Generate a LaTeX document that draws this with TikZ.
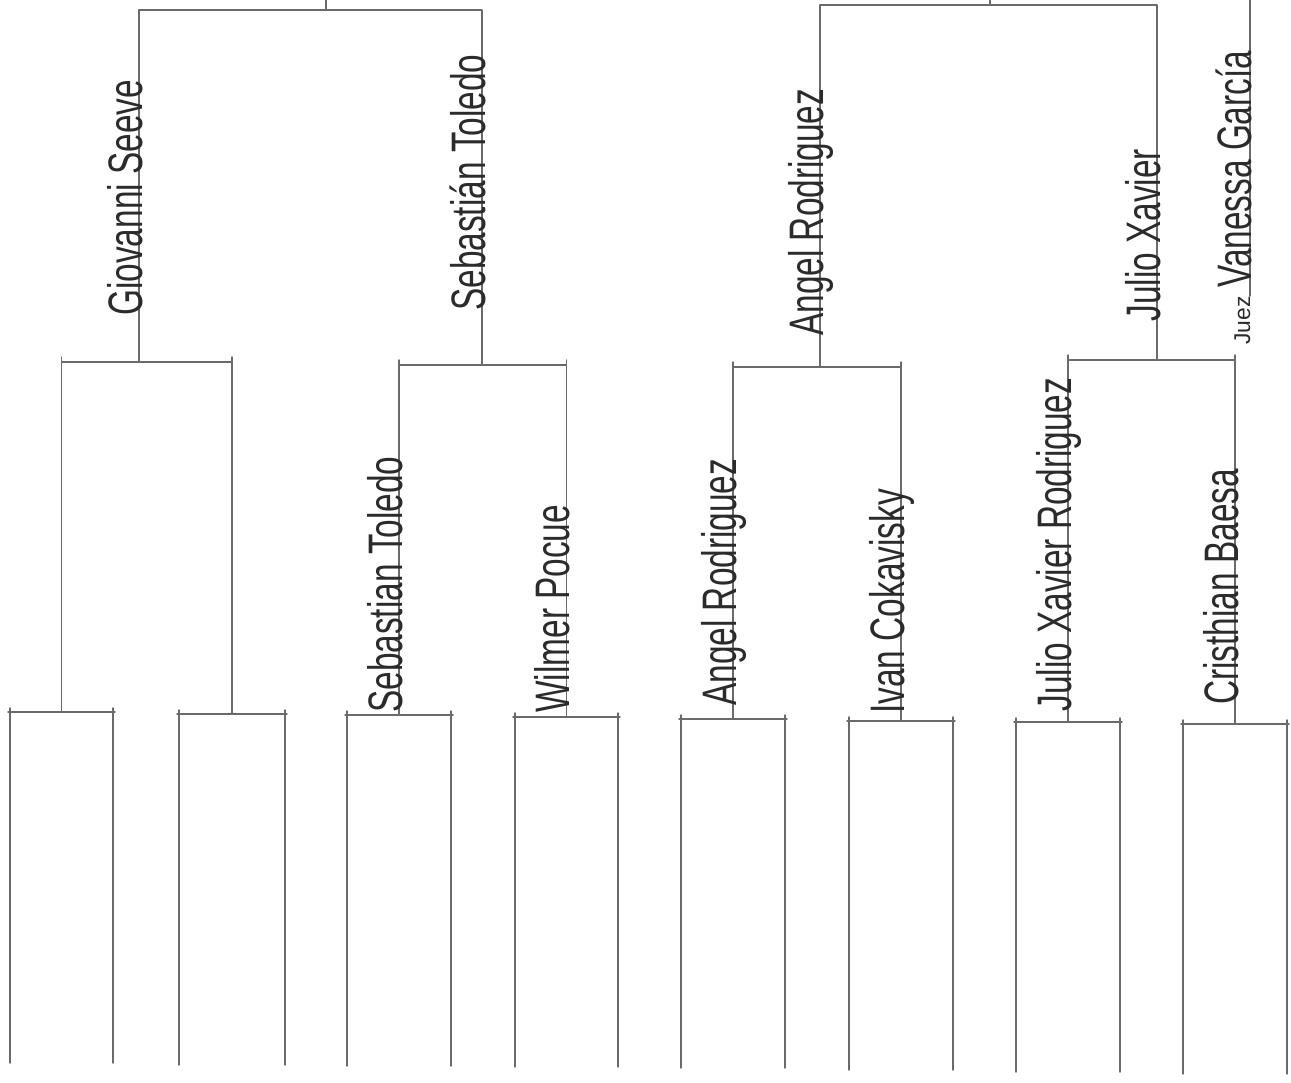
\documentclass[tikz,border=0pt]{standalone}
\usepackage{fontspec}
\setmainfont{Liberation Sans}
\usepackage{graphicx}
\definecolor{pen}{HTML}{2B2B2B}
\definecolor{rule}{HTML}{6A6A6A}
\newcommand{\tallname}[1]{\scalebox{1}[1.45]{#1}}
\begin{document}
\begin{tikzpicture}[x=0.02cm, y=0.02cm, line join=round, line cap=round]
\tikzset{bracket/.style={draw=rule, line width=0.8pt},
  player/.style={rotate=90, anchor=base west, inner sep=0pt, text=pen, font=\fontsize{19}{21}\selectfont},
  judge/.style={rotate=90, anchor=base east, inner sep=0pt, text=pen, font=\fontsize{13}{15}\selectfont}}
\useasboundingbox (0,0) rectangle (1291,-1082);
% first round: eight pairs of open slots
\foreach \i/\xl/\xr/\yb/\ye in {1/10/113/712/1063, 2/179/285/714/1065, 3/347/451/715/1066, 4/515/618/717/1067,
  5/681/785/719/1068, 6/849/953/721/1070, 7/1016/1120/722/1072, 8/1183/1287/724/1074}{
  \coordinate (q\i) at ({(\xl+\xr)/2},-\yb);
  \draw[bracket] (\xl,-\yb+4)--(\xl,-\ye);
  \draw[bracket] (\xr,-\yb+4)--(\xr,-\ye);
  \draw[bracket] (\xl-2,-\yb)--(\xr+2,-\yb);
}
% quarter finals
\coordinate (s1) at (139,-362);
\coordinate (s2) at (482,-365);
\coordinate (s3) at (820,-367);
\coordinate (s4) at (1157,-360);
\foreach \c/\s in {q1/s1, q2/s1, q3/s2, q4/s2, q5/s3, q6/s3, q7/s4, q8/s4}{
  \draw[bracket] (\c) |- (\s);
  \draw[bracket] (\c |- \s)--++(0,5);
}
% semi finals and final
\coordinate (f1) at (326,-10);
\coordinate (f2) at (990,-5);
\coordinate (t1) at (326,0);
\coordinate (t2) at (990,0);
\draw[bracket] (s1) |- (f1); \draw[bracket] (s2) |- (f1);
\draw[bracket] (s3) |- (f2); \draw[bracket] (s4) |- (f2);
\draw[bracket] (f1)--(t1);
\draw[bracket] (f2)--(t2);
% names
\node[player] (p3) at (402,-713) {\tallname{Sebastian Toledo}};
\node[player] (p4) at (569,-713) {\tallname{Wilmer Pocue}};
\node[player] (p5) at (736,-706) {\tallname{Angel Rodriguez}};
\node[player] (p6) at (904,-714) {\tallname{Ivan Cokavisky}};
\node[player] (p7) at (1071,-712) {\tallname{Julio Xavier Rodriguez}};
\node[player] (p8) at (1238,-705) {\tallname{Cristhian Baesa}};
\node[player] (w1) at (142,-316) {\tallname{Giovanni Seeve}};
\node[player] (w2) at (485,-311) {\tallname{Sebastián Toledo}};
\node[player] (w3) at (823,-336) {\tallname{Angel Rodriguez}};
\node[player] (w4) at (1160,-322) {\tallname{Julio Xavier}};
% judge
\coordinate (jz) at (1250,-296);
\coordinate (jt) at (1250,0);
\draw[bracket] (jz)--(jt);
\node[judge] (juez) at (jz) {Juez};
\node[player] (vg) at (1251,-288) {\tallname{Vanessa García}};
\end{tikzpicture}
\end{document}
